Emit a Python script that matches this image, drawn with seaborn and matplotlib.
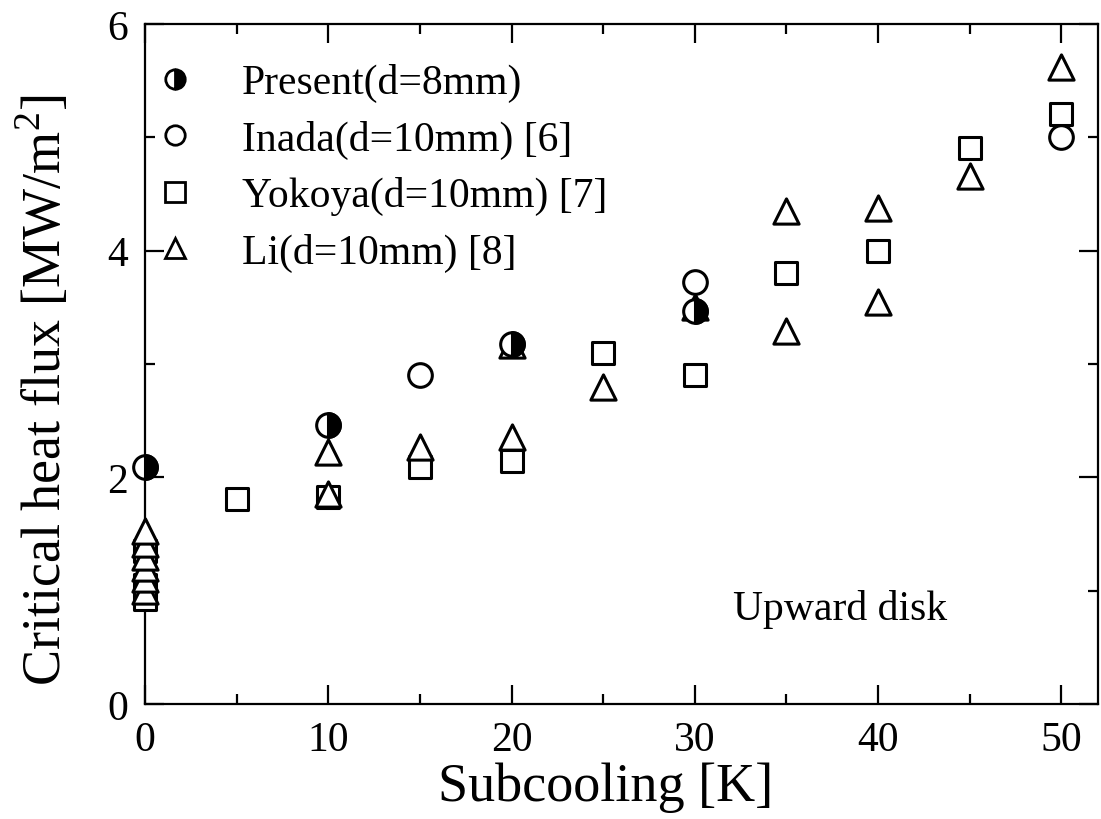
import pandas as pd
import seaborn as sns
import matplotlib.pyplot as plt
from matplotlib.lines import Line2D
from matplotlib.markers import MarkerStyle
from matplotlib.ticker import MultipleLocator

# data
present_x = [0, 10, 20, 30]
present_y = [2.09, 2.46, 3.18, 3.47]

inada_x = [15, 30, 50]
inada_y = [2.90, 3.72, 5.00]

yokoya_x = [0, 0, 0, 5, 10, 15, 20, 25, 30, 35, 40, 45, 50]
yokoya_y = [0.93, 1.05, 1.35, 1.81, 1.83, 2.09, 2.14, 3.10, 2.90, 3.80, 4.00, 4.91, 5.21]

li_x = [0, 0, 0, 0, 0, 0, 10, 10, 15, 20, 20, 25, 30, 35, 35, 40, 40, 45, 50]
li_y = [1.00, 1.10, 1.20, 1.30, 1.41, 1.53, 1.85, 2.22, 2.27, 2.36, 3.17, 2.80, 3.50,
        4.35, 3.29, 4.38, 3.55, 4.66, 5.62]

labels = ["Present(d=8mm)", "Inada(d=10mm) [6]", "Yokoya(d=10mm) [7]", "Li(d=10mm) [8]"]

sns.set_theme(style="ticks")
plt.rcParams['font.family'] = ['Liberation Serif', 'DejaVu Serif']
plt.rcParams.update({
    'xtick.direction': 'in', 'ytick.direction': 'in',
    'xtick.top': True, 'ytick.right': True,
    'xtick.major.size': 14, 'ytick.major.size': 14,
    'xtick.minor.size': 7, 'ytick.minor.size': 7,
    'xtick.major.width': 1.6, 'ytick.major.width': 1.6,
    'xtick.minor.width': 1.6, 'ytick.minor.width': 1.6,
    'axes.linewidth': 1.6,
    'xtick.color': 'black', 'ytick.color': 'black',
    'axes.edgecolor': 'black',
    'text.color': 'black', 'axes.labelcolor': 'black',
    'mathtext.fontset': 'custom', 'mathtext.rm': 'Liberation Serif',
})

fig = plt.figure(figsize=(11.01, 8.2), dpi=100)
ax = fig.add_axes([0.1317, 0.1402, 0.8656, 0.8293])

mk = dict(color='white', edgecolor='black', linewidth=2.2, ax=ax, legend=False,
          zorder=3, clip_on=False)

sns.scatterplot(x=yokoya_x, y=yokoya_y, marker='s', s=270, **mk)
sns.scatterplot(x=li_x, y=li_y, marker='^', s=330, **mk)
sns.scatterplot(x=inada_x, y=inada_y, marker='o', s=290, **mk)
sns.scatterplot(x=present_x, y=present_y, marker='o', s=290, **mk)
sns.scatterplot(x=present_x, y=present_y, marker=MarkerStyle('o', fillstyle='right'), s=290,
                color='black', edgecolor='black', linewidth=2.2, ax=ax, legend=False,
                zorder=4, clip_on=False)

ax.set_xlim(0, 52)
ax.set_ylim(0, 6)
ax.xaxis.set_major_locator(MultipleLocator(10))
ax.xaxis.set_minor_locator(MultipleLocator(5))
ax.yaxis.set_major_locator(MultipleLocator(2))
ax.yaxis.set_minor_locator(MultipleLocator(1))
ax.tick_params(axis='both', which='major', labelsize=30, pad=12)

ax.set_xlabel("Subcooling [K]", fontsize=39)
ax.set_ylabel("Critical heat flux [MW/m$^2$]", fontsize=39)
ax.xaxis.set_label_coords(0.483, -0.085)
ax.yaxis.set_label_coords(-0.076, 0.463)

ax.text(32.1, 0.84, "Upward disk", fontsize=30, va='center', ha='left')

handles = [
    Line2D([], [], ls='', marker='o', ms=14, fillstyle='right', markerfacecolor='black',
           markerfacecoloralt='white', markeredgecolor='black', markeredgewidth=2),
    Line2D([], [], ls='', marker='o', ms=14, markerfacecolor='white',
           markeredgecolor='black', markeredgewidth=2),
    Line2D([], [], ls='', marker='s', ms=14, markerfacecolor='white',
           markeredgecolor='black', markeredgewidth=2),
    Line2D([], [], ls='', marker='^', ms=15, markerfacecolor='white',
           markeredgecolor='black', markeredgewidth=2),
]
ax.legend(handles, labels, loc='upper left', frameon=False, fontsize=30,
          handletextpad=1.1, handlelength=1.0, labelspacing=0.42,
          borderaxespad=0.3, bbox_to_anchor=(-0.021, 0.985))

plt.savefig('out.png', dpi=100)
plt.close()
